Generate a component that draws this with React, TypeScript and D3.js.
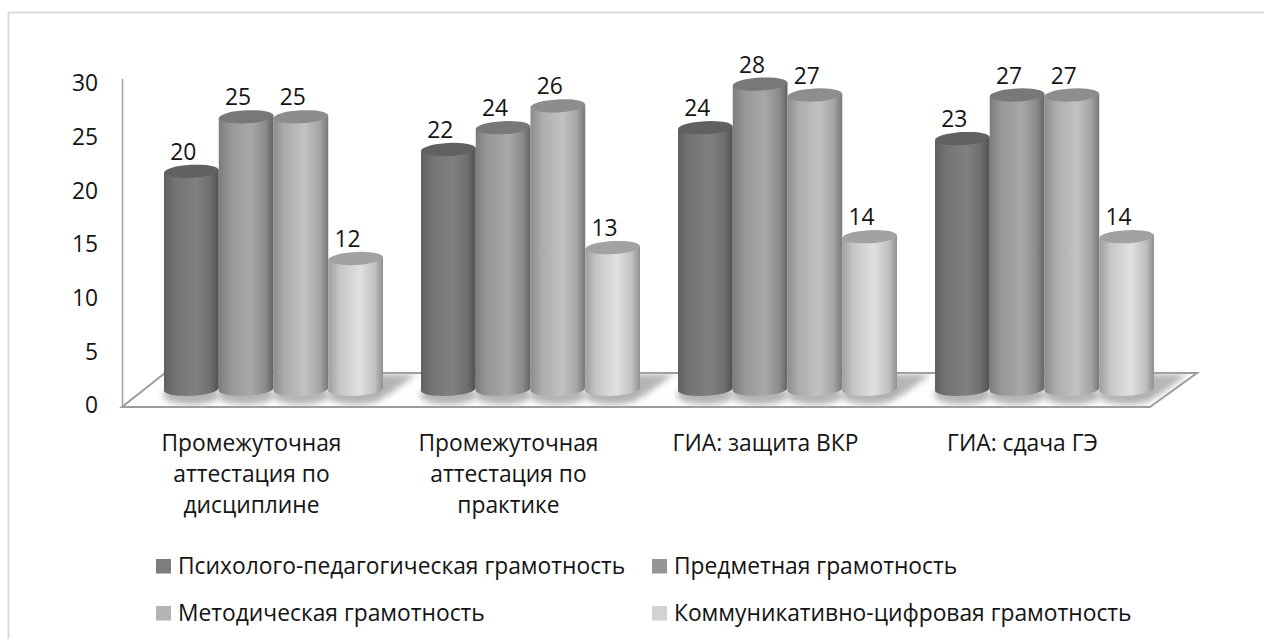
import React from "react";
import * as d3 from "d3";

const categories = [
  ["Промежуточная", "аттестация по", "дисциплине"],
  ["Промежуточная", "аттестация по", "практике"],
  ["ГИА: защита ВКР"],
  ["ГИА: сдача ГЭ"],
];
const seriesNames = [
  "Психолого-педагогическая грамотность",
  "Предметная грамотность",
  "Методическая грамотность",
  "Коммуникативно-цифровая грамотность",
];
const psychPed = [20, 22, 24, 23];
const subject = [25, 24, 28, 27];
const method = [25, 26, 27, 27];
const commDigital = [12, 13, 14, 14];
const seriesValues = [psychPed, subject, method, commDigital];
const axisTicks = [0, 5, 10, 15, 20, 25, 30];

// left edge, centre, right edge and cap tones for each cylinder series
const leftTones = ["#606060", "#7c7c7c", "#8c8c8c", "#9e9e9e"];
const midTones = ["#808080", "#a8a8a8", "#c2c2c2", "#e0e0e0"];
const rightTones = ["#505050", "#626262", "#787878", "#909090"];
const capTones = ["#616161", "#787878", "#8d8d8d", "#a2a2a2"];
const swatches = ["#7d7d7d", "#969696", "#b4b4b4", "#d2d2d2"];

const FONT = "'Open Sans', sans-serif";
const INK = "#141414";
const LABEL_SIZE = 22.8;

export default function App() {
  const axisY = d3.scaleLinear().domain([0, 30]).range([405, 83]);
  // cylinders stand further back on the floor than the axis plane
  const barY = d3.scaleLinear().domain([0, 30]).range([389.3, 62.3]);
  const groupX = d3.scaleBand<number>().domain([0, 1, 2, 3]).range([145, 1173]);
  const barX = d3.scaleBand<number>().domain([0, 1, 2, 3]).range([19, 238]);
  const rx = barX.bandwidth() / 2;
  const ry = 6.5;
  const floor = "122,407 165,373 1197,373 1150,407";

  return (
    <svg
      width={1264}
      height={639}
      style={{ position: "absolute", left: 0, top: 0, background: "#fff" }}
    >
      <defs>
        {seriesNames.map((_, i) => (
          <linearGradient id={`cyl${i}`} key={i} x1="0" x2="1" y1="0" y2="0">
            <stop offset="0" stopColor={leftTones[i]} />
            <stop offset="0.2" stopColor={d3.interpolateRgb(leftTones[i], midTones[i])(0.6)} />
            <stop offset="0.58" stopColor={midTones[i]} />
            <stop offset="0.85" stopColor={d3.interpolateRgb(rightTones[i], midTones[i])(0.6)} />
            <stop offset="1" stopColor={rightTones[i]} />
          </linearGradient>
        ))}
        <filter id="soft" x="-30%" y="-120%" width="160%" height="340%">
          <feGaussianBlur stdDeviation="3" />
        </filter>
        <clipPath id="floorClip">
          <polygon points={floor} />
        </clipPath>
      </defs>

      {/* open frame: only the top and left edges fall inside the page */}
      <path d="M8.5,639 L8.5,12.5 L1264,12.5" fill="none" stroke="#dcdcdc" strokeWidth={2} />

      {/* vertical axis */}
      <line x1={122.5} x2={122.5} y1={79} y2={407} stroke="#a0a0a0" strokeWidth={1.5} />
      {axisTicks.map((t) => (
        <text key={t} x={98} y={axisY(t)} dy="0.36em" textAnchor="end" fontFamily={FONT} fontSize={LABEL_SIZE} fill={INK}>
          {t}
        </text>
      ))}

      {/* floor and the shadows cast on it */}
      <polygon points={floor} fill="#fff" stroke="#9c9c9c" strokeWidth={2} />
      <g clipPath="url(#floorClip)">
        {categories.map((_, g) =>
          seriesValues.map((_v, s) => {
            const cx = groupX(g)! + barX(s)! + rx;
            return (
              <g key={`${g}-${s}`} filter="url(#soft)">
                <ellipse cx={cx} cy={395} rx={rx + 1} ry={9.5} fill="#b4b4b4" />
                <path
                  d={`M${cx},396 L${cx + rx + 4},396 L${cx + rx + 34},374 L${cx + 24},374 Z`}
                  fill="#adadad"
                  opacity={s === 3 ? 0.9 : 0}
                />
              </g>
            );
          })
        )}
      </g>

      {/* cylinders */}
      {categories.map((_, g) =>
        seriesValues.map((vals, s) => {
          const x0 = groupX(g)! + barX(s)!;
          const x1 = x0 + barX.bandwidth();
          const cx = (x0 + x1) / 2;
          const top = barY(vals[g]);
          const base = barY(0);
          const body = `M${x0},${top + 1.4} L${x0},${base + 1.4} A${rx},${ry} -3 0 0 ${x1},${base - 1.4} L${x1},${top - 1.4} Z`;
          return (
            <g key={`${g}-${s}`}>
              <path d={body} fill={`url(#cyl${s})`} />
              <ellipse
                cx={cx}
                cy={top}
                rx={rx}
                ry={ry}
                fill={capTones[s]}
                transform={`rotate(-3 ${cx} ${top})`}
              />
              <text
                x={cx - 8}
                y={top - 11.5}
                textAnchor="middle"
                fontFamily={FONT}
                fontSize={LABEL_SIZE}
                fill={INK}
              >
                {vals[g]}
              </text>
            </g>
          );
        })
      )}

      {/* category labels, wrapped onto three lines at most */}
      {categories.map((lines, g) => (
        <text
          key={g}
          textAnchor="middle"
          fontFamily={FONT}
          fontSize={LABEL_SIZE}
          fill={INK}
        >
          {lines.map((l, i) => (
            <tspan key={i} x={groupX(g)! + groupX.bandwidth() / 2 - 22} y={451 + i * 31}>
              {l}
            </tspan>
          ))}
        </text>
      ))}

      {/* legend in two rows and two columns */}
      {seriesNames.map((name, i) => {
        const lx = i % 2 === 0 ? 156 : 652;
        const ly = i < 2 ? 566 : 613;
        return (
          <g key={name}>
            <rect x={lx} y={ly - 7} width={15} height={14.5} fill={swatches[i]} />
            <text x={lx + 22} y={ly} dy="0.36em" fontFamily={FONT} fontSize={LABEL_SIZE} fill={INK}>
              {name}
            </text>
          </g>
        );
      })}
    </svg>
  );
}
